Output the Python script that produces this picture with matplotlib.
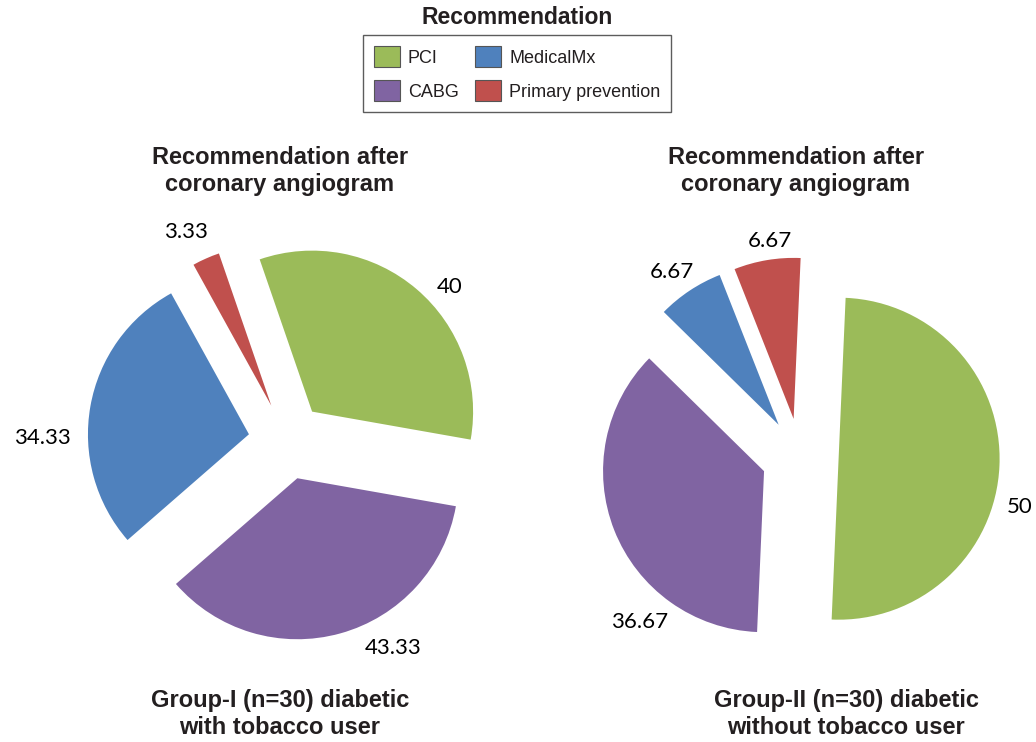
import numpy as np
import matplotlib
matplotlib.use("Agg")
import matplotlib.pyplot as plt
from matplotlib.patches import Patch

# ---- data ----
categories = ["PCI", "CABG", "MedicalMx", "Primary prevention"]
group1_values = [40, 43.33, 34.33, 3.33]
group2_values = [50, 36.67, 6.67, 6.67]
group1_labels = ["40", "43.33", "34.33", "3.33"]
group2_labels = ["50", "36.67", "6.67", "6.67"]

colors = ["#9BBB59", "#8064A2", "#4F81BD", "#C0504D"]

pie_title = "Recommendation after\ncoronary angiogram"
group1_title = "Group-I (n=30) diabetic\nwith tobacco user"
group2_title = "Group-II (n=30) diabetic\nwithout tobacco user"

# ---- layout (pixels, y measured from the top) ----
W, H = 1036, 742
R = 161
gap = 0.24 * R   # explode offset (pie takes it in data units)
pie1_center = (287, 441)
pie2_center = (800, 457)
# data-label placement around each pie centre: angle (deg), distance (px)
label1_angle = [43.4, -62.9, 179.3, 115.9]
label1_dist = [224, 232, 245, 232]
label2_angle = [-12.9, 225.9, 124.7, 97.9]
label2_dist = [225, 230, 225, 218]

fig = plt.figure(figsize=(W / 100, H / 100), dpi=100)
# one axes over the whole canvas, units = pixels (y up)
ax = fig.add_axes([0, 0, 1, 1])

label_font = dict(fontsize=16, family="Lato", color="black")


def draw_pie(values, labels, start, center, angles, dists):
    cx, cy = center[0], H - center[1]
    _, texts = ax.pie(values, labels=labels, colors=colors, startangle=start,
                      counterclock=False, explode=[gap] * len(values),
                      center=(cx, cy), radius=R, textprops=label_font,
                      frame=True, wedgeprops=dict(linewidth=0))
    for t, a, d in zip(texts, angles, dists):
        t.set_position((cx + d * np.cos(np.radians(a)),
                        cy + d * np.sin(np.radians(a))))
        t.set_ha("center")
        t.set_va("center")


draw_pie(group1_values, group1_labels, 109, pie1_center,
         label1_angle, label1_dist)
draw_pie(group2_values, group2_labels, 87.5, pie2_center,
         label2_angle, label2_dist)
ax.set_xlim(0, W)
ax.set_ylim(0, H)
ax.set_aspect("equal")
ax.axis("off")

title_font = dict(fontsize=17, fontweight="bold", family="Liberation Sans",
                  color="#231F20", ha="center", va="center", linespacing=1.2)
fig.text(280 / W, 1 - 171 / H, pie_title, **title_font)
fig.text(796 / W, 1 - 171 / H, pie_title, **title_font)
fig.text(280 / W, 1 - 714 / H, group1_title, **title_font)
fig.text(846 / W, 1 - 714 / H, group2_title, **title_font)

# legend with its title sitting above the frame
fig.text(517 / W, 1 - 18 / H, "Recommendation", fontsize=16.5,
         fontweight="bold", family="Liberation Sans", color="#231F20",
         ha="center", va="center")
handles = [Patch(facecolor=c, edgecolor="#555555", linewidth=0.8)
           for c in colors]
leg = fig.legend(handles, categories, ncol=2,
                 loc="upper center", bbox_to_anchor=(517 / W, 1 - 35 / H),
                 frameon=True, fancybox=False, edgecolor="#333333",
                 prop=dict(family="Liberation Sans", size=13),
                 handlelength=1.45, handleheight=1.45, handletextpad=0.45,
                 columnspacing=0.9, labelspacing=0.7, borderpad=0.6,
                 borderaxespad=0)
leg.get_frame().set_linewidth(1.0)
for t in leg.get_texts():
    t.set_color("#231F20")

fig.savefig("out.png", dpi=100)
